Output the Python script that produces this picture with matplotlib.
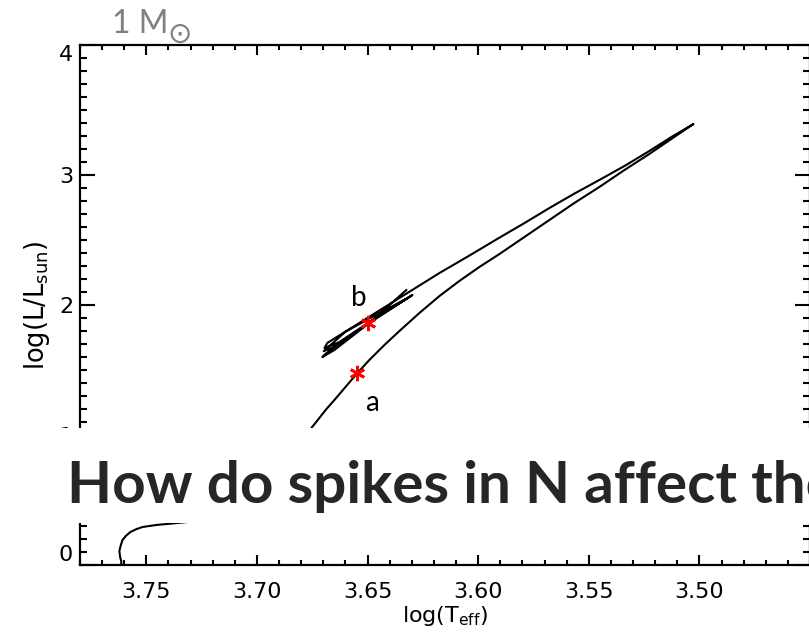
import matplotlib.pyplot as plt
from matplotlib.patches import Rectangle
from matplotlib.ticker import MultipleLocator

# track of the 1 Msun model (log Teff, log L/Lsun)
ms_teff = [3.7615, 3.7613, 3.7619, 3.7622, 3.7616, 3.7608, 3.7592, 3.7572, 3.7545, 3.7518,
           3.7455, 3.739, 3.726, 3.7034, 3.6899, 3.6808]
ms_lum = [-0.01, 0.023, 0.065, 0.108, 0.15, 0.192, 0.225, 0.254, 0.276, 0.292,
          0.308, 0.318, 0.34, 0.41, 0.54, 0.77]

rgb_teff = [3.6754, 3.6736, 3.6718, 3.6686, 3.665, 3.66, 3.6546, 3.6492, 3.6424, 3.6356,
            3.6266, 3.6175, 3.6085, 3.5995, 3.5904, 3.5791, 3.5678, 3.5565, 3.5452,
            3.5339, 3.5226, 3.5127, 3.5027]
rgb_lum = [1.054, 1.092, 1.131, 1.2, 1.269, 1.369, 1.477, 1.577, 1.692, 1.8,
           1.938, 2.069, 2.185, 2.292, 2.392, 2.523, 2.654, 2.785, 2.908,
           3.038, 3.162, 3.277, 3.392]

# after the flash: back down to the clump, zig-zag, then up again
post_teff = [3.5127, 3.5226, 3.5339, 3.5452, 3.5565, 3.5678, 3.5791, 3.5904, 3.604, 3.6175,
             3.6356, 3.6537, 3.6682, 3.6695,
             3.6627, 3.6492, 3.6297, 3.6401, 3.6582, 3.6691, 3.6704, 3.665, 3.6492, 3.6310,
             3.6450, 3.6600, 3.6698, 3.6660, 3.6492, 3.6325]
post_lum = [3.292, 3.185, 3.069, 2.962, 2.857, 2.746, 2.630, 2.518, 2.380, 2.246,
            2.054, 1.862, 1.708, 1.669,
            1.715, 1.869, 2.077, 1.969, 1.762, 1.623, 1.60, 1.654, 1.862, 2.062,
            1.935, 1.795, 1.645, 1.672, 1.862, 2.115]

# the two marked points
mark_teff = [3.6546, 3.6496]
mark_lum = [1.477, 1.862]
mark_names = ['a', 'b']

fig = plt.figure(figsize=(8.09, 6.39), dpi=100)
ax = fig.add_axes([80 / 809, 74 / 639, 730 / 809, 520 / 639])

teff = ms_teff + rgb_teff + post_teff
lum = ms_lum + rgb_lum + post_lum
ax.plot(teff, lum, color='black', lw=1.5, solid_joinstyle='round')
ax.plot(mark_teff, mark_lum, ls='none', marker=(6, 2, 0), color='red', ms=11, mew=2, zorder=3)

ax.text(mark_teff[0] - 0.0065, mark_lum[0] - 0.23, mark_names[0], fontsize=20,
        family='Lato', ha='center', va='center')
ax.text(mark_teff[1] + 0.0045, mark_lum[1] + 0.19, mark_names[1], fontsize=20,
        family='Lato', ha='center', va='center')

ax.set_xlim(3.78, 3.45)
ax.set_ylim(0, 4)
ax.xaxis.set_minor_locator(MultipleLocator(0.01))
ax.yaxis.set_minor_locator(MultipleLocator(0.1))
ax.set_xticks([3.75, 3.70, 3.65, 3.60, 3.55, 3.50])
ax.set_xticklabels(['3.75', '3.70', '3.65', '3.60', '3.55', '3.50'])
ax.set_yticks([0, 1, 2, 3, 4])
ax.set_yticklabels(['0', '1', '2', '3', '4'])

ax.tick_params(which='both', direction='in', top=True, right=True, width=1.5,
               labelsize=16, colors='black')
ax.tick_params(axis='x', which='major', length=7, pad=12)
ax.tick_params(axis='x', which='minor', length=3.5)
ax.tick_params(axis='y', which='major', length=11, pad=5)
ax.tick_params(axis='y', which='minor', length=5)
for s in ax.spines.values():
    s.set_linewidth(1.6)

ylabs = ax.get_yticklabels()
ylabs[0].set_va('bottom')
ylabs[-1].set_va('top')

ax.set_xlabel(r'log(T$_{\mathregular{eff}}$)', fontsize=16, labelpad=2)
ax.set_ylabel(r'log(L/L$_{\mathregular{sun}}$)', fontsize=18.5, labelpad=5)

# slide overlay: white band with the heading over the plot
fig.add_artist(Rectangle((0, 116 / 639), 1, 95 / 639, transform=fig.transFigure,
                         facecolor='white', edgecolor='none', zorder=5))
fig.text(67 / 809, 136 / 639, 'How do spikes in N affect the', fontsize=42,
         family='Lato', weight='bold', color='#262626', zorder=6)

fig.text(112 / 809, 606 / 639, '1 M', fontsize=23, family='Lato', color='#808080')
fig.text(180 / 809, 604 / 639, '\u2299', fontsize=21, color='#808080', ha='center', va='center')

fig.savefig('out.png', dpi=100)
